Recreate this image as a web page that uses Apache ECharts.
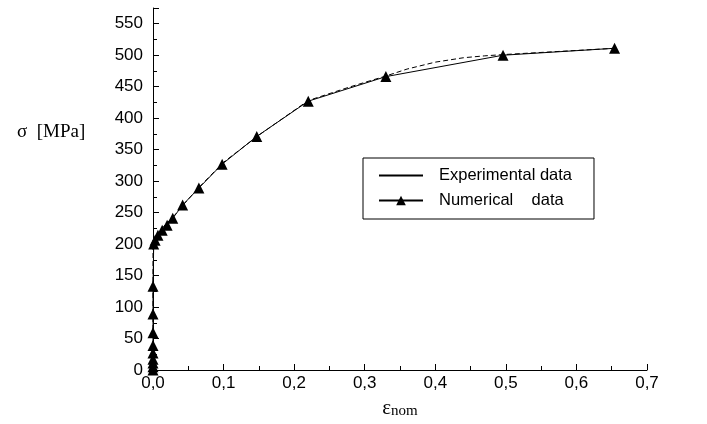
<!DOCTYPE html>
<html><head><meta charset="utf-8">
<script src="https://cdn.jsdelivr.net/npm/echarts@6/dist/echarts.min.js"></script>
<style>html,body{margin:0;padding:0;background:#fff}#c{width:707px;height:424px}</style>
</head><body><div id="c"></div>
<script>
// Numerical data (triangles)
const numStrain = [0, 0, 0, 0, 0, 0, 0, 0, 0, 0.001, 0.003, 0.007, 0.013, 0.02, 0.028, 0.042, 0.065, 0.098, 0.147, 0.22, 0.33, 0.496, 0.654];
const numStress = [0, 5, 11, 17, 27, 39, 59, 89, 133, 200, 206, 214, 222, 230, 241, 262, 289, 327, 371, 427, 466, 500, 511];
// Experimental data (line)
const expStrain = [0, 0, 0.005, 0.015, 0.03, 0.045, 0.065, 0.1, 0.15, 0.22, 0.28, 0.33, 0.36, 0.40, 0.44, 0.47, 0.496, 0.654];
const expStress = [0, 200, 212, 228, 245, 265, 290, 330, 373, 428, 450, 467, 478, 489, 496, 499, 501, 511];
const seriesNames = ['Experimental data', 'Numerical    data'];
const yAxisTitle = 'σ  [MPa]';

const chart = echarts.init(document.getElementById('c'), null, {renderer: 'canvas'});
const zip = (a, b) => a.map((v, i) => [v, b[i]]);
const axisCommon = {
  axisLine: {show: true, lineStyle: {color: '#000', width: 1}},
  axisTick: {show: true, inside: true, length: 6, lineStyle: {color: '#000'}},
  minorTick: {show: true, splitNumber: 2, length: 4, lineStyle: {color: '#000'}},
  splitLine: {show: false},
  axisLabel: {color: '#000', fontFamily: 'Liberation Sans', fontSize: 17}
};
chart.setOption({
  animation: false,
  backgroundColor: '#fff',
  title: {
    text: yAxisTitle, left: 12, top: 118,
    textStyle: {fontFamily: 'Liberation Serif', fontWeight: 'normal', fontSize: 19, color: '#000'}
  },
  grid: {left: 153, right: 60, top: 8, bottom: 49, containLabel: false},
  legend: {
    left: 363, top: 158, orient: 'vertical',
    padding: [9, 22, 10, 15],
    itemGap: 8, itemWidth: 44, itemHeight: 12,
    borderColor: '#000', borderWidth: 1, borderRadius: 0,
    textStyle: {fontFamily: 'Liberation Sans', fontSize: 16.5, color: '#000', padding: [0, 0, 0, 11]},
    data: [
      {name: seriesNames[0], lineStyle: {type: 'solid'}, itemStyle: {opacity: 0}},
      {name: seriesNames[1]}
    ]
  },
  xAxis: Object.assign({}, axisCommon, {
    type: 'value', min: 0, max: 0.7, interval: 0.1,
    name: '{e|ε}{s|nom}', nameLocation: 'middle', nameGap: 26,
    nameTextStyle: {rich: {
      e: {fontFamily: 'Liberation Serif', fontSize: 21, color: '#000', verticalAlign: 'bottom'},
      s: {fontFamily: 'Liberation Serif', fontSize: 15, color: '#000', padding: [8, 0, 0, 0]}
    }},
    axisLabel: Object.assign({}, axisCommon.axisLabel, {
      margin: 5,
      formatter: v => v.toFixed(1).replace('.', ',')
    })
  }),
  yAxis: Object.assign({}, axisCommon, {
    type: 'value', min: 0, max: 575, interval: 50,
    axisLabel: Object.assign({}, axisCommon.axisLabel, {margin: 10, showMaxLabel: false})
  }),
  series: [
    {
      name: seriesNames[0], type: 'line', data: zip(expStrain, expStress),
      symbol: 'none', z: 2,
      lineStyle: {color: '#000', width: 1, type: [5, 3]},
      itemStyle: {color: '#000'}
    },
    {
      name: seriesNames[1], type: 'line', data: zip(numStrain, numStress),
      symbol: 'triangle', symbolSize: 11, z: 3,
      lineStyle: {color: '#000', width: 1},
      itemStyle: {color: '#000'}
    }
  ]
});
</script></body></html>
